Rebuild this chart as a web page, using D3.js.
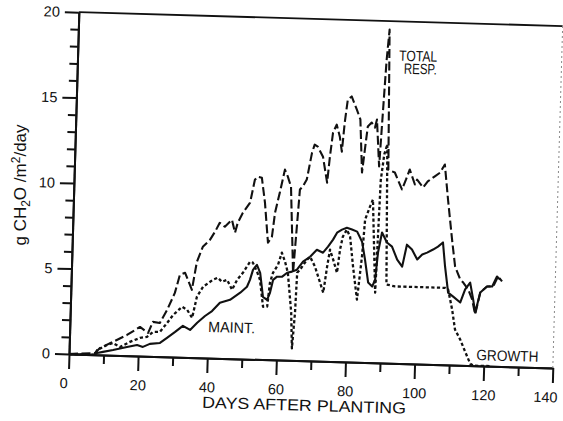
<!DOCTYPE html>
<html>
<head>
<meta charset="utf-8">
<script src="https://cdn.jsdelivr.net/npm/d3@7"></script>
<style>
  body { margin: 0; background: #fff; }
  svg { display: block; }
  text { font-family: "Liberation Sans", Arial, sans-serif; fill: #111; }
</style>
</head>
<body>
<svg id="chart" width="563" height="421"></svg>
<script>
// Daily respiration, g CH2O / m2 / day, against days after planting.
const maintDays = [0, 7.5, 8.1, 9.8, 12.7, 16.7, 19.6, 21.3, 23.3, 26.2, 28.2, 30.5, 32.7, 34.8, 36.8, 39.0, 41.0, 43.2, 46.1, 49.0, 50.9, 51.7, 52.5, 53.6, 54.6, 55.6, 56.8, 57.6, 58.4, 59.5, 61.0, 62.4, 63.8, 65.2, 66.9, 68.9, 70.8, 72.6, 74.0, 75.4, 76.5, 77.9, 79.3, 80.8, 82.3, 83.8, 84.8, 85.9, 87.1, 87.9, 88.5, 89.5, 91.0, 92.5, 94.1, 95.6, 96.8, 98.3, 99.9, 101.3, 102.7, 104.4, 105.8, 107.2, 108.0, 109.1, 110.6, 112.7, 114.0, 115.4, 116.4, 117.1, 118.4, 120.3, 121.8, 123.1, 124.0];
const maintValues = [0, 0, 0.11, 0.18, 0.31, 0.51, 0.64, 0.54, 0.73, 0.80, 1.11, 1.47, 1.84, 1.61, 2.04, 2.45, 2.75, 3.25, 3.44, 3.87, 4.23, 4.64, 5.23, 5.53, 5.07, 3.67, 3.5, 3.92, 4.68, 4.87, 4.88, 5.12, 5.19, 5.31, 5.79, 6.09, 6.51, 6.35, 6.71, 7.13, 7.54, 7.73, 7.85, 7.75, 7.64, 7.06, 6.02, 4.68, 4.45, 4.87, 6.45, 7.63, 7.05, 6.82, 6.07, 5.67, 6.96, 6.68, 6.11, 6.41, 6.53, 6.72, 6.9, 7.15, 5.75, 4.23, 4.0, 3.67, 4.44, 4.85, 3.87, 3.11, 4.29, 4.65, 4.66, 5.25, 5.08];

const growthDays = [0, 7.5, 8.1, 10.9, 12.6, 14.7, 17.5, 20.4, 22.4, 24.1, 26.1, 28.1, 29.8, 32.3, 33.8, 35.3, 36.5, 38.2, 41.0, 42.4, 43.6, 45.1, 46.6, 48.0, 49.6, 51.6, 52.4, 53.7, 54.6, 55.7, 56.9, 57.5, 58.3, 59.7, 60.7, 61.7, 62.6, 63.9, 64.4, 65.0, 65.3, 66.1, 68.0, 68.9, 70.4, 72.0, 73.0, 73.9, 74.6, 75.6, 76.8, 77.5, 78.2, 79.3, 80.3, 81.4, 82.8, 83.9, 84.5, 85.8, 86.6, 88.0, 88.7, 89.5, 90.3, 91.2, 93.7, 101.0, 108.3, 109.1, 110.4, 111.4, 113.0, 114.5, 116.1, 117.0, 122.0];
const growthValues = [0, 0, 0.28, 0.59, 0.72, 0.5, 0.81, 1.06, 1.13, 1.43, 1.45, 1.98, 2.46, 2.95, 2.78, 2.32, 3.56, 4.15, 4.58, 4.71, 4.48, 4.6, 4.03, 4.62, 5.04, 5.70, 5.65, 5.12, 4.66, 3.09, 3.1, 4.5, 5.09, 5.57, 6.28, 5.76, 5.12, 2.79, 0.7, 2.8, 5.13, 5.32, 5.91, 6.09, 5.52, 4.59, 4.01, 5.54, 6.54, 5.96, 5.2, 6.56, 7.32, 7.74, 7.33, 5.58, 3.66, 6.19, 8.36, 9.12, 9.54, 4.1, 10.7, 12.2, 12.8, 4.6, 4.5, 4.5, 4.5, 4.4, 3.25, 2.08, 1.5, 0.81, 0.1, 0, 0];

const totalDays = [0, 7.5, 8.9, 12.6, 16.6, 20.3, 22.7, 24.0, 26.0, 28.0, 30.1, 31.4, 32.9, 35.0, 36.2, 37.8, 39.8, 41.2, 42.5, 44.0, 46.0, 47.0, 47.7, 49.1, 51.1, 52.3, 53.1, 54.3, 55.4, 56.6, 57.7, 58.4, 59.6, 60.9, 61.8, 62.8, 64.1, 65.4, 66.2, 67.3, 68.6, 69.3, 70.2, 71.8, 73.2, 73.8, 74.5, 75.5, 76.5, 77.2, 77.8, 78.5, 79.6, 81.2, 82.3, 83.2, 84.5, 85.6, 86.6, 87.1, 88.1, 88.9, 89.4, 90.0, 90.8, 92.7, 94.9, 96.0, 97.0, 98.6, 99.2, 101.0, 102.3, 104.3, 105.8, 107.1, 108.3, 109.8, 110.9, 112.5, 113.4, 114.9, 116.1, 117.1, 118.4, 120.3, 122.1, 123.4, 124.6];
const totalValues = [0, 0.1, 0.40, 0.78, 1.21, 1.70, 1.37, 2.02, 1.97, 2.74, 3.75, 4.81, 4.94, 3.96, 5.6, 6.49, 6.91, 7.39, 7.92, 7.70, 8.12, 7.37, 7.96, 8.55, 9.15, 10.5, 10.68, 10.63, 9.18, 6.84, 7.2, 8.61, 9.78, 11.14, 10.74, 10.15, 5.13, 10.0, 10.18, 10.6, 12.18, 12.65, 12.54, 11.96, 10.45, 11.98, 13.39, 13.86, 13.16, 12.29, 13.99, 15.34, 15.53, 14.77, 14.2, 11.1, 13.8, 14.04, 13.75, 14.22, 11.48, 15.4, 17.75, 19.5, 11.3, 11.16, 10.18, 10.77, 11.36, 10.49, 10.78, 10.33, 10.69, 11.0, 11.23, 11.71, 9.67, 7.34, 5.77, 5.01, 4.84, 4.44, 3.87, 3.0, 4.29, 4.65, 4.67, 5.26, 4.97];

const xMajorTicks = [0, 20, 40, 60, 80, 100, 120, 140];
const xMinorTicks = [10, 30, 50, 70, 90, 110, 130];
const yMajorTicks = [0, 5, 10, 15, 20];
const yMinorTicks = [1, 2, 3, 4, 6, 7, 8, 9, 11, 12, 13, 14, 16, 17, 18, 19];

const svg = d3.select("#chart");
const x = d3.scaleLinear().domain([0, 140]).range([69, 553]);
const y = d3.scaleLinear().domain([0, 20]).range([354, 12]);

// the whole drawing sits slightly turned, as on the printed page
const g = svg.append("g").attr("transform", `rotate(1.65,${x(0)},${y(0)})`);

const ink = "#111";

function styleAxis(sel) {
  sel.selectAll("path.domain").attr("stroke", ink).attr("stroke-width", 2);
  sel.selectAll(".tick line").attr("stroke", ink).attr("stroke-width", 2);
  sel.selectAll("text").attr("font-size", 14.5).attr("fill", ink)
     .attr("font-family", "'Liberation Sans', Arial, sans-serif");
}

// x axis
g.append("g").attr("transform", `translate(0,${y(0)})`)
  .call(d3.axisBottom(x).tickValues(xMinorTicks).tickSize(9).tickSizeOuter(0).tickFormat(""))
  .call(styleAxis);
const xAxisG = g.append("g").attr("transform", `translate(0,${y(0)})`)
  .call(d3.axisBottom(x).tickValues(xMajorTicks).tickSize(15).tickSizeOuter(0).tickPadding(9).tickFormat(d3.format("d")))
  .call(styleAxis);
xAxisG.selectAll(".tick").filter(d => d === 0).select("text").attr("dx", -5);
xAxisG.selectAll(".tick").filter(d => d === 140).select("text").attr("dx", -7);

// y axis
g.append("g").attr("transform", `translate(${x(0)},0)`)
  .call(d3.axisLeft(y).tickValues(yMinorTicks).tickSize(8).tickSizeOuter(0).tickFormat(""))
  .call(styleAxis);
g.append("g").attr("transform", `translate(${x(0)},0)`)
  .call(d3.axisLeft(y).tickValues(yMajorTicks).tickSize(14).tickSizeOuter(0).tickPadding(5).tickFormat(d3.format("d")))
  .call(styleAxis);

// frame: solid top, faint dotted right side
g.append("line").attr("x1", x(0)).attr("x2", x(140)).attr("y1", y(20)).attr("y2", y(20))
  .attr("stroke", ink).attr("stroke-width", 1.8);
g.append("line").attr("x1", x(140)).attr("x2", x(140)).attr("y1", y(20)).attr("y2", y(0))
  .attr("stroke", "#888").attr("stroke-width", 1).attr("stroke-dasharray", "2,3");

// series
const line = d3.line().x(d => x(d[0])).y(d => y(d[1]));
const series = [
  { days: totalDays, values: totalValues, dash: "9,3.5", width: 2.1 },
  { days: growthDays, values: growthValues, dash: "3.2,2.4", width: 2.3 },
  { days: maintDays, values: maintValues, dash: null, width: 2.1 }
];
series.forEach(s => {
  g.append("path")
    .datum(d3.zip(s.days, s.values))
    .attr("d", line)
    .attr("fill", "none")
    .attr("stroke", ink)
    .attr("stroke-width", s.width)
    .attr("stroke-linejoin", "round")
    .attr("stroke-dasharray", s.dash);
});

// curve labels
function label(text, day, value, anchor, len) {
  g.append("text").attr("x", x(day)).attr("y", y(value))
    .attr("text-anchor", anchor).attr("font-size", 15)
    .attr("textLength", len).attr("lengthAdjust", "spacingAndGlyphs")
    .text(text);
}
label("TOTAL", 104, 17.7, "end", 38);
label("RESP.", 104, 16.95, "end", 33);
label("MAINT.", 40, 1.52, "start", 47);
label("GROWTH", 117.8, 0.33, "start", 62);

// axis titles
g.append("text").attr("x", x(68.4)).attr("y", y(0) + 50)
  .attr("text-anchor", "middle").attr("font-size", 16)
  .attr("textLength", 204).attr("lengthAdjust", "spacingAndGlyphs")
  .text("DAYS AFTER PLANTING");

const yTitle = svg.append("text")
  .attr("transform", "translate(26,185) rotate(-90)")
  .attr("text-anchor", "middle").attr("font-size", 17);
yTitle.append("tspan").text("g CH");
yTitle.append("tspan").attr("font-size", 12).attr("dy", 4).text("2");
yTitle.append("tspan").attr("dy", -4).text("O /m");
yTitle.append("tspan").attr("font-size", 12).attr("dy", -6).text("2");
yTitle.append("tspan").attr("dy", 6).text("/day");
</script>
</body>
</html>
